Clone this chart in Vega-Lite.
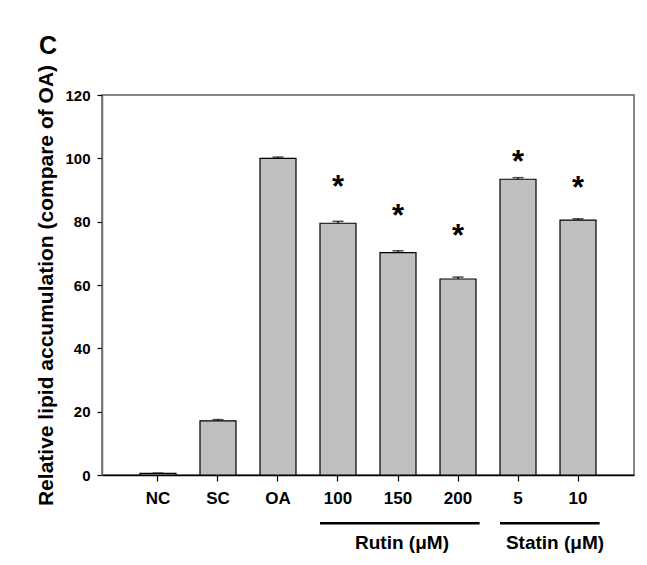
{
  "$schema": "https://vega.github.io/schema/vega-lite/v6.json",
  "width": 532,
  "height": 380,
  "autosize": "none",
  "padding": {"left": 102, "top": 95, "right": 13, "bottom": 90},
  "background": "white",
  "title": {"text": "C", "anchor": "start", "frame": "bounds", "fontSize": 25, "fontWeight": "bold", "color": "black", "offset": 5, "dx": 3},
  "datasets": {
    "bars": [
      {"group": "NC", "value": 0.5, "err": 0.1, "star": null},
      {"group": "SC", "value": 17.1, "err": 0.4, "star": null},
      {"group": "OA", "value": 100.0, "err": 0.4, "star": null},
      {"group": "100", "value": 79.5, "err": 0.6, "star": 93.2},
      {"group": "150", "value": 70.2, "err": 0.6, "star": 84.0},
      {"group": "200", "value": 61.9, "err": 0.6, "star": 77.6},
      {"group": "5", "value": 93.4, "err": 0.5, "star": 101.0},
      {"group": "10", "value": 80.5, "err": 0.4, "star": 92.9}
    ],
    "brackets": [
      {"label": "Rutin (μM)", "from": "100", "to": "200", "labelAt": "150", "lineY": -15.2, "textY": -21.5},
      {"label": "Statin (μM)", "from": "5", "to": "10", "labelAt": "10", "lineY": -15.2, "textY": -21.5}
    ]
  },
  "encoding": {
    "x": {
      "field": "group", "type": "nominal", "sort": null,
      "scale": {"domain": ["NC", "SC", "OA", "100", "150", "200", "5", "10"], "paddingInner": 0.4, "paddingOuter": 0.633},
      "axis": {"title": null, "labelAngle": 0, "labelFontSize": 17, "labelFontWeight": "bold", "labelColor": "black", "domainColor": "black", "domainWidth": 1.5, "tickColor": "black", "tickSize": 6, "tickWidth": 1.2, "labelPadding": 9}
    }
  },
  "layer": [
    {
      "data": {"name": "bars"},
      "mark": {"type": "bar", "fill": "#c0c0c0", "stroke": "black", "strokeWidth": 1.2},
      "encoding": {
        "y": {
          "field": "value", "type": "quantitative",
          "scale": {"domain": [0, 120], "nice": false},
          "axis": {"title": "Relative lipid accumulation (compare of OA)", "titleFontSize": 21, "titleFontWeight": "bold", "titleColor": "black", "titlePadding": 8, "values": [0, 20, 40, 60, 80, 100, 120], "labelFontSize": 15, "labelFontWeight": "bold", "labelColor": "black", "grid": false, "domainColor": "#707070", "domainWidth": 1.5, "tickColor": "black", "tickSize": 5, "tickWidth": 1.2, "labelPadding": 7}
        }
      }
    },
    {
      "data": {"name": "bars"},
      "transform": [{"calculate": "datum.value + datum.err", "as": "top"}],
      "mark": {"type": "rule", "stroke": "black", "strokeWidth": 1.3},
      "encoding": {
        "y": {"field": "value", "type": "quantitative"},
        "y2": {"field": "top"}
      }
    },
    {
      "data": {"name": "bars"},
      "transform": [{"calculate": "datum.value + datum.err", "as": "top"}],
      "mark": {"type": "tick", "color": "black", "size": 11, "thickness": 1.5, "orient": "horizontal"},
      "encoding": {
        "y": {"field": "top", "type": "quantitative"}
      }
    },
    {
      "data": {"name": "bars"},
      "transform": [{"filter": "datum.star != null"}],
      "mark": {"type": "text", "text": "*", "fontSize": 31, "fontWeight": "bold", "color": "black", "baseline": "alphabetic", "dy": 17},
      "encoding": {
        "y": {"field": "star", "type": "quantitative"}
      }
    },
    {
      "data": {"name": "brackets"},
      "mark": {"type": "rule", "stroke": "black", "strokeWidth": 2.5, "clip": false},
      "encoding": {
        "x": {"field": "from", "type": "nominal", "bandPosition": 0},
        "x2": {"field": "to", "bandPosition": 1.1},
        "y": {"field": "lineY", "type": "quantitative"}
      }
    },
    {
      "data": {"name": "brackets"},
      "transform": [{"filter": "datum.from == '100'"}],
      "mark": {"type": "text", "fontSize": 19, "fontWeight": "bold", "color": "black", "baseline": "middle", "align": "center", "dx": 4, "clip": false},
      "encoding": {
        "x": {"field": "labelAt", "type": "nominal", "bandPosition": 0.5},
        "y": {"field": "textY", "type": "quantitative"},
        "text": {"field": "label"}
      }
    },
    {
      "data": {"name": "brackets"},
      "transform": [{"filter": "datum.from == '5'"}],
      "mark": {"type": "text", "fontSize": 19, "fontWeight": "bold", "color": "black", "baseline": "middle", "align": "center", "dx": -5, "clip": false},
      "encoding": {
        "x": {"field": "labelAt", "type": "nominal", "bandPosition": 0},
        "y": {"field": "textY", "type": "quantitative"},
        "text": {"field": "label"}
      }
    }
  ],
  "config": {
    "font": "Liberation Sans, Arial, Helvetica, sans-serif",
    "view": {"stroke": "#606060", "strokeWidth": 1.5}
  }
}
